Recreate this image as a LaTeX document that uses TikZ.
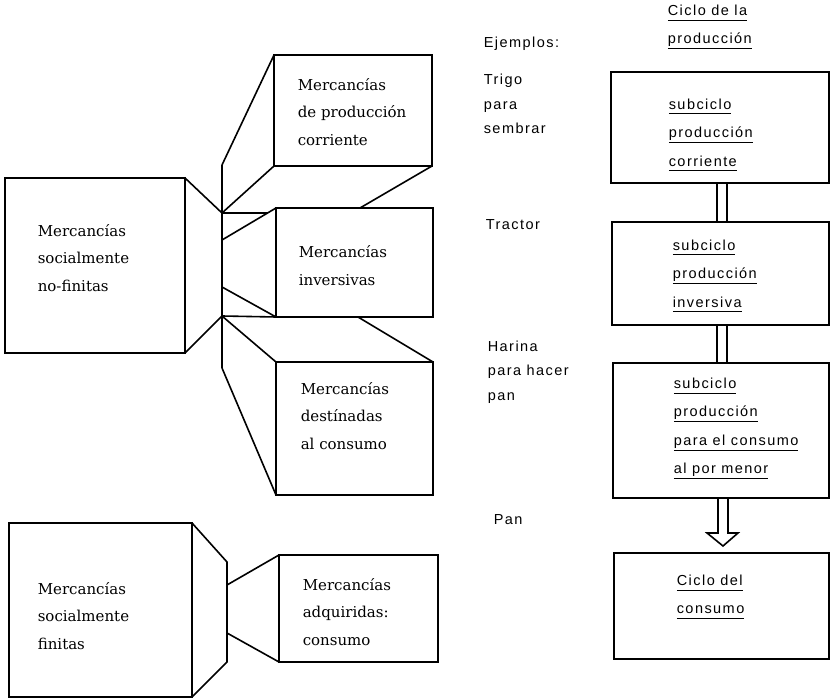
\documentclass[tikz,border=0pt]{standalone}
\usepackage{fontspec}
\newfontfamily\lfont{DejaVu Serif}
\newfontfamily\rfont[LetterSpace=10]{Liberation Sans}
\usetikzlibrary{calc}
\newcommand\ulx[1]{\underline{\kern-1.5pt\vphantom{p}\kern1.5pt#1}}
\begin{document}
\begin{tikzpicture}[x=1pt,y=-1pt,line width=1.6pt,line join=miter,
  box/.style={draw,line width=1.6pt,anchor=north west,inner sep=0pt,outer sep=0pt},
  ltext/.style={anchor=west,align=left,inner sep=0pt,font=\lfont\fontsize{15}{27.5}\selectfont},
  rtext/.style={anchor=west,align=left,inner sep=0pt,font=\rfont\fontsize{14.5}{28.5}\selectfont},
  etext/.style={anchor=west,align=left,inner sep=0pt,font=\rfont\fontsize{14.5}{24.5}\selectfont}]
\path[use as bounding box,fill=white] (0,0) rectangle (831,700);

% left boxes
\node[box,minimum width=180pt,minimum height=175pt] (nf) at (5,178) {};
\node[box,minimum width=158pt,minimum height=111pt] (b1) at (274,55) {};
\node[box,minimum width=157pt,minimum height=109pt] (b2) at (276,208) {};
\node[box,minimum width=157pt,minimum height=133pt] (b3) at (276,362) {};
\node[box,minimum width=183pt,minimum height=174pt] (fin) at (9,523) {};
\node[box,minimum width=159pt,minimum height=107pt] (b4) at (279,555) {};

% right boxes
\node[box,minimum width=218pt,minimum height=111pt] (r1) at (611,72) {};
\node[box,minimum width=217pt,minimum height=103pt] (r2) at (612,222) {};
\node[box,minimum width=216pt,minimum height=135pt] (r3) at (613,363) {};
\node[box,minimum width=215pt,minimum height=106pt] (r4) at (614,553) {};

% spine coordinates
\coordinate (s0) at (222,165);
\coordinate (s1) at (222,213);
\coordinate (s2) at (222,240);
\coordinate (s3) at (222,287);
\coordinate (s4) at (222,316);
\coordinate (s5) at (222,368);
\coordinate (h1) at ($(s2)!0.84375!(b2.north west)$);
\path (b2.north west) ++(84,0) coordinate (t2);
\path (b2.south west) ++(82,0) coordinate (t3);

\draw (nf.north east) -- (s1);
\draw (nf.south east) -- (s4);
\draw (s0) -- (s5);
\draw (s0) -- (b1.north west);
\draw (s1) -- (b1.south west);
\draw (b1.south east) -- (t2);
\draw (s2) -- (b2.north west);
\draw (s1) -- (h1);
\draw (s3) -- (b2.south west);
\draw (s4) -- (b2.south west);
\draw (s4) -- (b3.north west);
\draw (s5) -- (b3.south west);
\draw (t3) -- (b3.north east);

% bottom spine
\coordinate (u0) at (227,562);
\coordinate (u1) at (227,585);
\coordinate (u2) at (227,633);
\coordinate (u3) at (227,662);
\draw (fin.north east) -- (u0) -- (u3) -- (fin.south east);
\draw (u1) -- (b4.north west);
\draw (u2) -- (b4.south west);

% right connectors
\coordinate (cl) at (717,0);
\coordinate (cr) at (727,0);
\draw (r1.south -| cl) -- (r2.north -| cl);
\draw (r1.south -| cr) -- (r2.north -| cr);
\draw (r2.south -| cl) -- (r3.north -| cl);
\draw (r2.south -| cr) -- (r3.north -| cr);
\coordinate (al) at (718,533);
\coordinate (ar) at (728,533);
\coordinate (hl) at (707,533);
\coordinate (hr) at (738,533);
\coordinate (tip) at (723,546);
\draw (r3.south -| al) -- (al) -- (hl) -- (tip) -- (hr) -- (ar) -- (r3.south -| ar);

% left texts
\node[ltext] (tnf) at (37,258) {Mercancías\\socialmente\\no-finitas};
\node[ltext] (tb1) at (297,112) {Mercancías\\de producción\\corriente};
\node[ltext] (tb2) at (298,265.5) {Mercancías\\inversivas};
\node[ltext] (tb3) at (300,416) {Mercancías\\destínadas\\al consumo};
\node[ltext] (tfin) at (37,616) {Mercancías\\socialmente\\finitas};
\node[ltext] (tb4) at (302,612) {Mercancías\\adquiridas:\\consumo};

% examples
\node[etext] (ej) at (483,44) {Ejemplos:};
\node[etext] (e1) at (483,104) {Trigo\\para\\sembrar};
\node[etext] (e2) at (485,225) {Tractor};
\node[etext] (e3) at (487,372) {Harina\\para hacer\\pan};
\node[etext] (e4) at (493,520) {Pan};

% right texts
\node[rtext] (hd) at (667,27) {\ulx{Ciclo de la}\\\ulx{producción}};
\node[rtext] (tr1) at (668,135) {\ulx{subciclo}\\\ulx{producción}\\\ulx{corriente}};
\node[rtext] (tr2) at (672,276) {\ulx{subciclo}\\\ulx{producción}\\\ulx{inversiva}};
\node[rtext] (tr3) at (673,428.5) {\ulx{subciclo}\\\ulx{producción}\\\ulx{para el consumo}\\\ulx{al por menor}};
\node[rtext] (tr4) at (676,597) {\ulx{Ciclo del}\\\ulx{consumo}};
\end{tikzpicture}
\end{document}
